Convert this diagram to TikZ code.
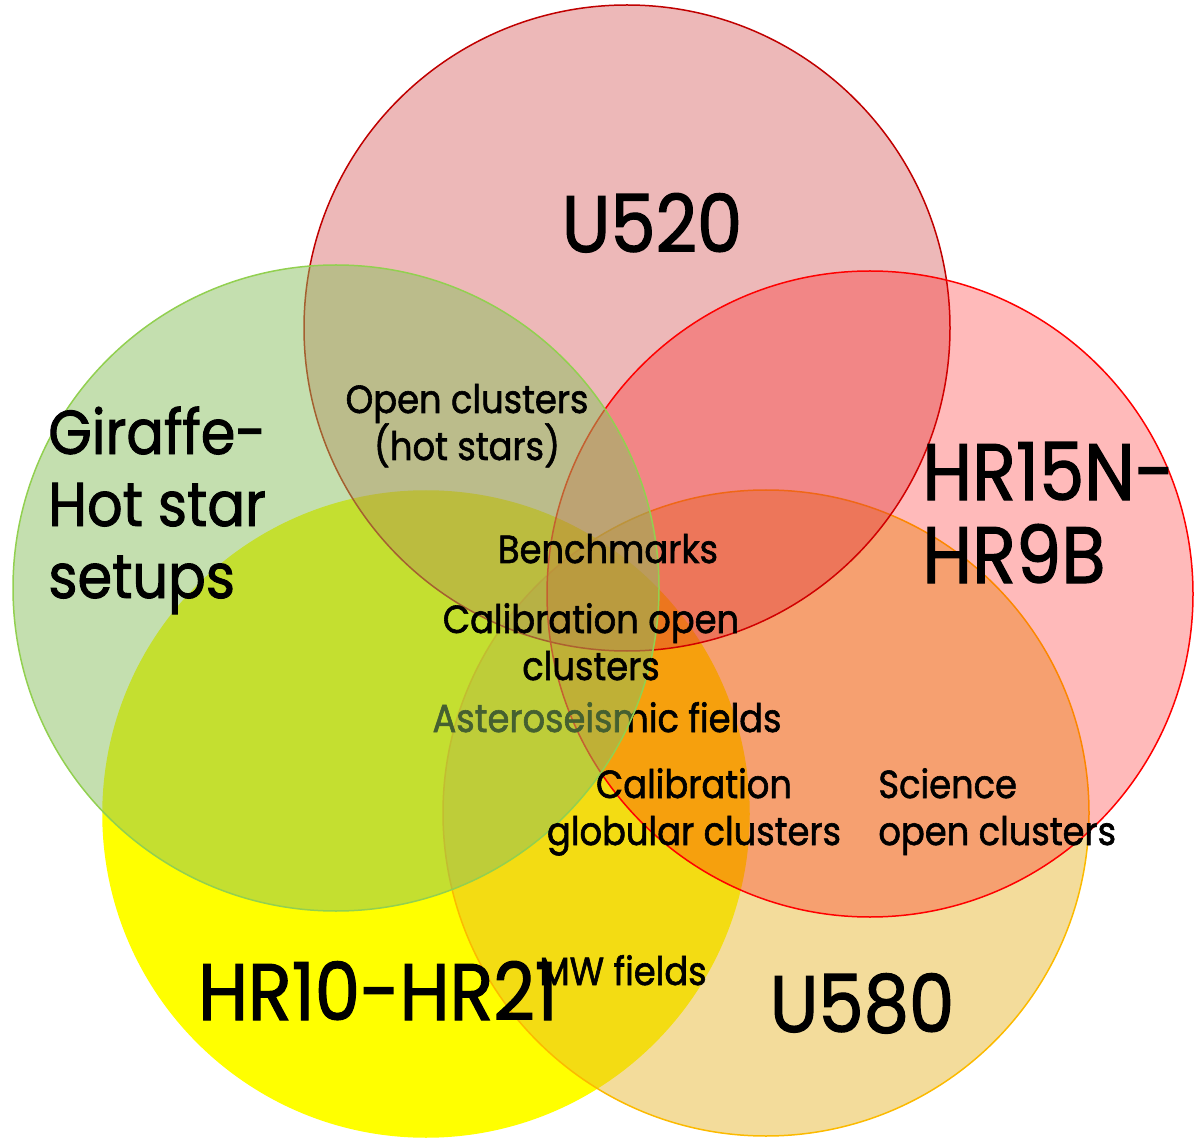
\documentclass[tikz,border=0pt]{standalone}
\usepackage{fontspec}
\setmainfont{Poppins}[FakeStretch=0.9, FakeBold=1.5]
\usetikzlibrary{positioning}

% set colours
\definecolor{setyellow}{RGB}{255,255,0}
\definecolor{setgold}{RGB}{230,181,42}
\definecolor{setgoldline}{RGB}{252,186,0}
\definecolor{setrose}{RGB}{210,78,78}
\definecolor{setroseline}{RGB}{192,0,0}
\definecolor{setgreen}{RGB}{138,192,96}
\definecolor{setgreenline}{RGB}{146,208,80}

\begin{document}
\begin{tikzpicture}[x=0.5pt, y=-0.5pt,
    bigtxt/.style={inner sep=0pt, font=\fontsize{40}{41.5}\selectfont},
    midtxt/.style={inner sep=0pt, font=\fontsize{31}{36}\selectfont},
    smalltxt/.style={inner sep=0pt, font=\fontsize{19.6}{23.5}\selectfont},
    setline/.style={line width=0.75pt}]
    \def\rad{161.5pt} % circle radius
    \useasboundingbox (0,0) rectangle (1200,1144);

    % HR10-HR21 (bottom left)
    \filldraw[setline, fill=setyellow, draw=setyellow] (426,814) circle[radius=\rad];
    % U580 (bottom right)
    \filldraw[setline, fill=setgold, fill opacity=0.47, draw=setgoldline] (766,813) circle[radius=\rad];
    % U520 (top)
    \filldraw[setline, fill=setrose, fill opacity=0.4, draw=setroseline] (627,328) circle[radius=\rad];
    % HR15N-HR9B (right)
    \filldraw[setline, fill=red, fill opacity=0.27, draw=red] (870,594) circle[radius=\rad];

    % this label sits below the green set
    \node[smalltxt, anchor=base] (astero) at (607,732) {Asteroseismic fields};

    % Giraffe hot star setups (left)
    \filldraw[setline, fill=setgreen, fill opacity=0.5, draw=setgreenline] (336,588) circle[radius=\rad];

    % Set names (base = last line)
    \node[bigtxt, anchor=base] (u520) at (652,252) {U520};
    \node[bigtxt, anchor=base west, align=left] (hr15n) at (922,583) {HR15N-\\HR9B};
    \node[bigtxt, anchor=base] (hr10) at (378,1020) {HR10-HR21};
    \node[bigtxt, anchor=base] (u580) at (862,1032) {U580};
    \node[midtxt, anchor=base west, align=left] (giraffe) at (48,598) {Giraffe-\\Hot star\\setups};

    % Overlap labels
    \node[smalltxt, anchor=base, align=center] (hotoc) at (467,460) {Open clusters\\(hot stars)};
    \node[smalltxt, anchor=base] (bench) at (608,563) {Benchmarks};
    \node[smalltxt, anchor=base, align=center] (caloc) at (591,680) {Calibration open\\clusters};
    \node[smalltxt, anchor=base, align=center] (calgc) at (694,845) {Calibration\\globular clusters};
    \node[smalltxt, anchor=base west, align=left] (scioc) at (878,845) {Science\\open clusters};
    \node[smalltxt, anchor=base] (mw) at (623,985) {MW fields};

\end{tikzpicture}
\end{document}
